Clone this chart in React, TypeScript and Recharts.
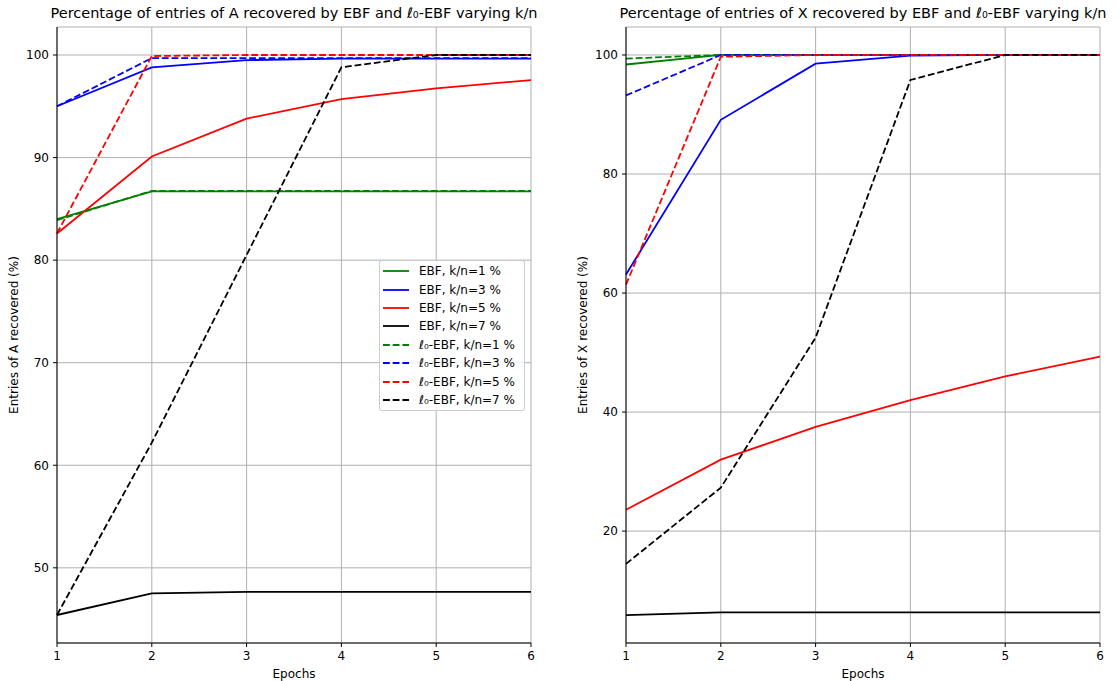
import React from "react";
import { LineChart, Line, XAxis, YAxis, CartesianGrid, Legend } from "recharts";

const epochs = [1, 2, 3, 4, 5, 6];

// Panel A: entries of A recovered (%)
const aEbf1 = [84.0, 86.7, 86.7, 86.7, 86.7, 86.7];
const aEbf3 = [95.0, 98.8, 99.5, 99.65, 99.65, 99.65];
const aEbf5 = [82.6, 90.1, 93.8, 95.7, 96.75, 97.55];
const aEbf7 = [45.4, 47.5, 47.65, 47.65, 47.65, 47.65];
const aL0_1 = [83.9, 86.75, 86.75, 86.75, 86.75, 86.75];
const aL0_3 = [95.0, 99.7, 99.7, 99.7, 99.7, 99.7];
const aL0_5 = [82.6, 99.9, 100, 100, 100, 100];
const aL0_7 = [45.4, 62.2, 80.5, 98.8, 100, 100];

// Panel X: entries of X recovered (%)
const xEbf1 = [98.4, 100, 100, 100, 100, 100];
const xEbf3 = [63.1, 89.1, 98.55, 99.9, 100, 100];
const xEbf5 = [23.6, 32.0, 37.5, 42.0, 46.0, 49.3];
const xEbf7 = [5.9, 6.35, 6.35, 6.35, 6.35, 6.35];
const xL0_1 = [99.4, 100, 100, 100, 100, 100];
const xL0_3 = [93.2, 100, 100, 100, 100, 100];
const xL0_5 = [61.4, 99.7, 100, 100, 100, 100];
const xL0_7 = [14.5, 27.3, 52.5, 95.8, 100, 100];

const aTicks = [50, 60, 70, 80, 90, 100];
const xTicks = [20, 40, 60, 80, 100];
const aDomain = [42.67, 102.73];
const xDomain = [1.2, 104.7];

const seriesDefs = [
  { key: "ebf1", name: "EBF, k/n=1 %", color: "#008000", dashed: false },
  { key: "ebf3", name: "EBF, k/n=3 %", color: "#0000ff", dashed: false },
  { key: "ebf5", name: "EBF, k/n=5 %", color: "#ff0000", dashed: false },
  { key: "ebf7", name: "EBF, k/n=7 %", color: "#000000", dashed: false },
  { key: "l01", name: "ℓ₀-EBF, k/n=1 %", color: "#008000", dashed: true },
  { key: "l03", name: "ℓ₀-EBF, k/n=3 %", color: "#0000ff", dashed: true },
  { key: "l05", name: "ℓ₀-EBF, k/n=5 %", color: "#ff0000", dashed: true },
  { key: "l07", name: "ℓ₀-EBF, k/n=7 %", color: "#000000", dashed: true },
];

const buildRows = (cols: number[][]) =>
  epochs.map((e, i) => {
    const row: any = { epoch: e };
    seriesDefs.forEach((s, j) => {
      row[s.key] = cols[j][i];
    });
    return row;
  });

const dataA = buildRows([aEbf1, aEbf3, aEbf5, aEbf7, aL0_1, aL0_3, aL0_5, aL0_7]);
const dataX = buildRows([xEbf1, xEbf3, xEbf5, xEbf7, xL0_1, xL0_3, xL0_5, xL0_7]);

const FONT = "'DejaVu Sans', sans-serif";
const DASH = "6.8 2.9";
const LW = 1.8;

const LegendBox = () => (
  <div
    style={{
      boxSizing: "border-box",
      width: 146,
      height: 151,
      border: "1px solid #cccccc",
      borderRadius: 3,
      background: "rgba(255,255,255,0.8)",
      paddingTop: 1,
      paddingLeft: 3,
      fontFamily: FONT,
      fontSize: 12,
      color: "#000",
    }}
  >
    {seriesDefs.map((s) => (
      <div key={s.key} style={{ height: 18.4, display: "flex", alignItems: "center" }}>
        <svg width={26} height={6} style={{ display: "block" }}>
          <line
            x1={0}
            y1={3}
            x2={26}
            y2={3}
            stroke={s.color}
            strokeWidth={LW}
            strokeDasharray={s.dashed ? DASH : undefined}
          />
        </svg>
        <span style={{ marginLeft: 10, whiteSpace: "nowrap", lineHeight: "14px" }}>{s.name}</span>
      </div>
    ))}
  </div>
);

const makeYLabel = (text: string) => (props: any) => {
  const vb = props.viewBox || {};
  const cx = vb.x + 7;
  const cy = vb.y + vb.height / 2;
  return (
    <text
      x={cx}
      y={cy}
      transform={`rotate(-90 ${cx} ${cy})`}
      textAnchor="middle"
      dominantBaseline="central"
      fontSize={12}
      fontFamily={FONT}
      fill="#000"
    >
      {text}
    </text>
  );
};

const xLabel = (props: any) => {
  const vb = props.viewBox || {};
  const cx = vb.x + vb.width / 2;
  const cy = vb.y + 31;
  return (
    <text x={cx} y={cy} textAnchor="middle" dominantBaseline="central" fontSize={12} fontFamily={FONT} fill="#000">
      Epochs
    </text>
  );
};

type PanelProps = {
  data: any[];
  domain: number[];
  ticks: number[];
  title: string;
  yLabel: string;
  left: number;
  width: number;
  margin: { top: number; right: number; bottom: number; left: number };
  showLegend: boolean;
};

const Panel = ({ data, domain, ticks, title, yLabel, left, width, margin, showLegend }: PanelProps) => {
  const plotLeft = margin.left + 50;
  const plotWidth = width - margin.right - plotLeft;
  return (
    <div style={{ position: "absolute", left, top: 0, width, height: 681 }}>
      <div
        style={{
          position: "absolute",
          left: plotLeft - 60,
          width: plotWidth + 120,
          top: 5,
          textAlign: "center",
          fontFamily: FONT,
          fontSize: 14.5,
          lineHeight: "17px",
          color: "#000",
          whiteSpace: "nowrap",
        }}
      >
        {title}
      </div>
      <LineChart width={width} height={681} data={data} margin={margin}>
        <CartesianGrid stroke="#b0b0b0" strokeWidth={1} />
        <XAxis
          dataKey="epoch"
          type="number"
          domain={[1, 6]}
          ticks={epochs}
          height={38}
          tickSize={4}
          tickMargin={4}
          axisLine={{ stroke: "#000", strokeWidth: 1 }}
          tickLine={{ stroke: "#000", strokeWidth: 1 }}
          tick={{ fill: "#000", fontSize: 12, fontFamily: FONT }}
          label={{ content: xLabel }}
        />
        <XAxis
          xAxisId="top"
          orientation="top"
          dataKey="epoch"
          type="number"
          domain={[1, 6]}
          height={0}
          tick={false}
          tickLine={false}
          axisLine={{ stroke: "#000", strokeWidth: 1 }}
        />
        <YAxis
          type="number"
          domain={domain}
          ticks={ticks}
          width={50}
          tickSize={4}
          tickMargin={4}
          allowDataOverflow
          axisLine={{ stroke: "#000", strokeWidth: 1 }}
          tickLine={{ stroke: "#000", strokeWidth: 1 }}
          tick={{ fill: "#000", fontSize: 12, fontFamily: FONT }}
          label={{ content: makeYLabel(yLabel) }}
        />
        <YAxis
          yAxisId="right"
          orientation="right"
          type="number"
          domain={domain}
          width={0}
          tick={false}
          tickLine={false}
          allowDataOverflow
          axisLine={{ stroke: "#000", strokeWidth: 1 }}
        />
        {seriesDefs.map((s) => (
          <Line
            key={s.key}
            dataKey={s.key}
            name={s.name}
            type="linear"
            stroke={s.color}
            strokeWidth={LW}
            strokeDasharray={s.dashed ? DASH : undefined}
            dot={false}
            activeDot={false}
            isAnimationActive={false}
          />
        ))}
        {showLegend && (
          <Legend
            layout="vertical"
            align="center"
            verticalAlign="middle"
            content={() => <LegendBox />}
            wrapperStyle={{ left: 379, top: 260, width: 146, height: 151 }}
          />
        )}
      </LineChart>
    </div>
  );
};

export default function App() {
  return (
    <div style={{ position: "absolute", left: 0, top: 0, width: 1117, height: 681, background: "#fff" }}>
      <Panel
        data={dataA}
        domain={aDomain}
        ticks={aTicks}
        title="Percentage of entries of A recovered by EBF and ℓ₀-EBF varying k/n"
        yLabel="Entries of A recovered (%)"
        left={0}
        width={558}
        margin={{ top: 27, right: 27, bottom: 0, left: 7 }}
        showLegend={true}
      />
      <Panel
        data={dataX}
        domain={xDomain}
        ticks={xTicks}
        title="Percentage of entries of X recovered by EBF and ℓ₀-EBF varying k/n"
        yLabel="Entries of X recovered (%)"
        left={558}
        width={559}
        margin={{ top: 27, right: 17, bottom: 0, left: 18 }}
        showLegend={false}
      />
    </div>
  );
}
